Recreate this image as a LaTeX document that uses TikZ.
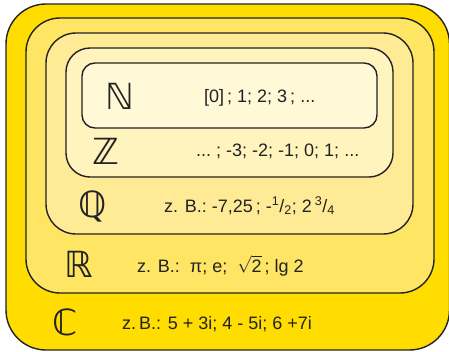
\documentclass[tikz,border=0pt]{standalone}
\usepackage{fontspec}
\usepackage{amsmath}
\setmainfont{Liberation Sans}
\newfontfamily\dsfont{DejaVu Sans}
\definecolor{gelbC}{RGB}{255,221,0}
\definecolor{gelbR}{RGB}{255,229,100}
\definecolor{gelbQ}{RGB}{255,234,150}
\definecolor{gelbZ}{RGB}{255,243,190}
\definecolor{gelbN}{RGB}{255,249,216}
\definecolor{rand}{RGB}{34,34,34}
\tikzset{
  menge/.style={draw=rand, line width=1.4pt},
  symb/.style={anchor=base west, inner sep=0pt, text=rand, font=\dsfont\fontsize{36}{36}\selectfont},
  beisp/.style={anchor=base west, inner sep=0pt, text=rand, font=\fontsize{18}{20}\selectfont}
}
\begin{document}
\begin{tikzpicture}[x=1pt, y=-1pt]

  \useasboundingbox (0,0) rectangle (449,351);
  \clip (0,0) rectangle (449,351);

  % Mengen von aussen nach innen
  \draw[menge, fill=gelbC, rounded corners=40pt] (6,4) rectangle (449.5,350);
  \draw[menge, fill=gelbR, rounded corners=34pt] (26,18) rectangle (434,293);
  \draw[menge, fill=gelbQ, rounded corners=30pt] (46,33) rectangle (413,234);
  \draw[menge, fill=gelbZ, rounded corners=24pt] (66,48) rectangle (393,177);
  \draw[menge, fill=gelbN, rounded corners=13pt] (82,63) rectangle (377,128);

  % Symbole
  \node[symb] (symN) at (105,109) {ℕ};
  \node[symb] (symZ) at (92,164) {ℤ};
  \node[symb] (symQ) at (78,217) {ℚ};
  \node[symb] (symR) at (64,277) {ℝ};
  \node[symb] (symC) at (52,335) {ℂ};

  % Beispiele
  \node[beisp] (bspN) at (204,102) {[0]\,; 1; 2; 3\,; ...};
  \node[beisp] (bspZ) at (196,156) {...\ ; -3; -2; -1; 0; 1; ...};
  \node[beisp] (bspQ) at (164,212) {z. B.:\ -7,25\,; -\textsuperscript{1}/\textsubscript{2}; 2\,\textsuperscript{3}/\textsubscript{4}};
  \node[beisp] (bspR) at (137,272) {z. B.:\ \ π; e;\ \ $\sqrt{\mbox{2}}$\,; lg 2};
  \node[beisp] (bspC) at (122,329) {z.\,B.: 5 + 3i; 4 - 5i; 6 +7i};

\end{tikzpicture}
\end{document}
